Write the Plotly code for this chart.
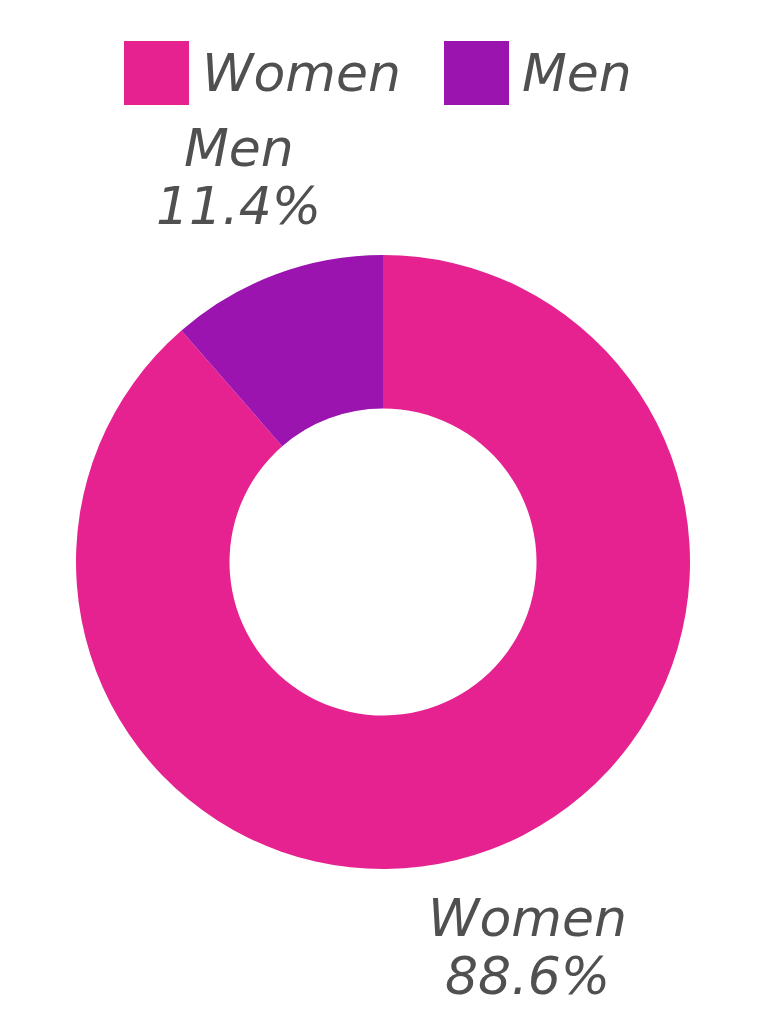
import math
import plotly.graph_objects as go

categories = ["Women", "Men"]
values = [88.6, 11.4]
colors = ["#E5228F", "#9B14B0"]

W, H = 768, 1024
OFF = 8  # page body margin of the written html
ML, MR, MT, MB = 68, 86, 247, 163
PW, PH = W - ML - MR, H - MT - MB

def px(x):
    return (x - OFF - ML) / PW

def py(y):
    return (H - MB - (y - OFF)) / PH

FONT = dict(family="DejaVu Sans", size=52, color="#505050", style="italic")

fig = go.Figure(go.Pie(
    labels=categories,
    values=values,
    hole=0.5,
    sort=False,
    direction="clockwise",
    rotation=0,
    marker=dict(colors=colors, line=dict(color="white", width=0)),
    textinfo="none",
    showlegend=False,
    hoverinfo="label+percent",
))

shapes = []
annotations = []

# manual legend with large square swatches
legend_x = [124, 444]
for cat, col, x0 in zip(categories, colors, legend_x):
    shapes.append(dict(type="rect", xref="paper", yref="paper",
                       x0=px(x0), x1=px(x0 + 65), y0=py(105), y1=py(41),
                       fillcolor=col, line=dict(width=0)))
    annotations.append(dict(text=cat, xref="paper", yref="paper",
                            x=px(x0 + 76), y=py(73), xanchor="left", yanchor="middle",
                            showarrow=False, font=FONT))

# outside slice labels placed along each slice's mid-angle
total = sum(values)
cx, cy, R = 0.5, 0.5, 0.5   # paper units (square plot area)
label_r = 1.34 * R
line_gap = 29 / PH
start = 0.0
for cat, v in zip(categories, values):
    frac = v / total
    mid = (start + frac / 2) * 2 * math.pi   # clockwise from 12 o'clock
    start += frac
    lx = cx + label_r * math.sin(mid)
    ly = cy + label_r * math.cos(mid)
    annotations.append(dict(text=cat, xref="paper", yref="paper", x=lx, y=ly + line_gap,
                            xanchor="center", yanchor="middle", showarrow=False, font=FONT))
    annotations.append(dict(text=f"{frac*100:.1f}%", xref="paper", yref="paper", x=lx, y=ly - line_gap,
                            xanchor="center", yanchor="middle", showarrow=False, font=FONT))

fig.update_layout(
    width=W, height=H,
    margin=dict(l=ML, r=MR, t=MT, b=MB),
    paper_bgcolor="white",
    plot_bgcolor="white",
    shapes=shapes,
    annotations=annotations,
    font=FONT,
)

fig.write_html("out.html")
